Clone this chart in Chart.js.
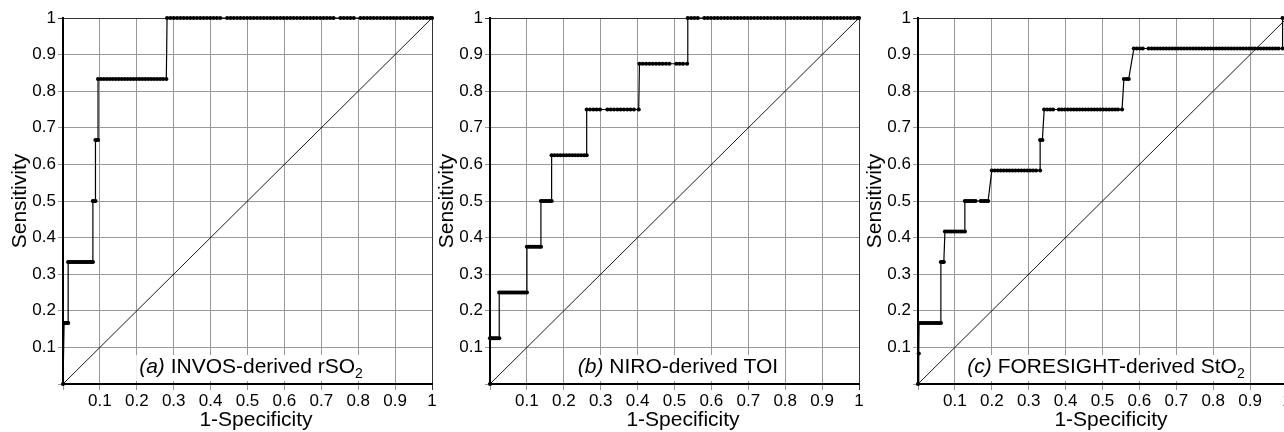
<!DOCTYPE html>
<html><head><meta charset="utf-8">
<script src="https://cdn.jsdelivr.net/npm/chart.js@4.4.1/dist/chart.umd.min.js"></script>
<style>
html,body{margin:0;padding:0;background:#fff;overflow:hidden;width:1284px;height:432px;position:relative;}
canvas{position:absolute;top:0;}
</style></head><body>
<canvas id="ca" width="445" height="432" style="left:0px"></canvas>
<canvas id="cb" width="445" height="432" style="left:427px"></canvas>
<canvas id="cc" width="445" height="432" style="left:855px"></canvas>
<script>
const FONT = '"Liberation Sans", Arial, Helvetica, sans-serif';
const tickValues = [0, 0.1, 0.2, 0.3, 0.4, 0.5, 0.6, 0.7, 0.8, 0.9, 1];
const tickLabels = ['', '0.1', '0.2', '0.3', '0.4', '0.5', '0.6', '0.7', '0.8', '0.9', '1'];
const xTitle = '1-Specificity';
const yTitle = 'Sensitivity';
const panelTags = ['(a)', '(b)', '(c)'];
const panelNames = [' INVOS-derived rSO', ' NIRO-derived TOI', ' FORESIGHT-derived StO'];
const panelSubs = ['2', '', '2'];
const diagX = [0, 1];
const diagY = [0, 1];

// Panel (a): sensitivity levels and the 1-specificity values of the points on each level
const A_tpr = [0, 0.1667, 0.3333, 0.5, 0.6667, 0.8333, 1];
const A_fpr = [
  [0],
  [0.003, 0.006, 0.009, 0.012, 0.014],
  [0.014, 0.018, 0.022, 0.026, 0.030, 0.034, 0.038, 0.042, 0.046, 0.050, 0.054, 0.058, 0.062, 0.066, 0.070, 0.074, 0.078, 0.081],
  [0.081, 0.085, 0.088],
  [0.088, 0.092, 0.095],
  [0.095, 0.103, 0.111, 0.119, 0.127, 0.135, 0.143, 0.151, 0.159, 0.167, 0.175, 0.183, 0.191, 0.199, 0.207, 0.215, 0.223, 0.231, 0.239, 0.247, 0.255, 0.263, 0.271, 0.280],
  [0.282, 0.291, 0.300, 0.309, 0.318, 0.327, 0.336, 0.345, 0.354, 0.363, 0.372, 0.381, 0.390, 0.399, 0.408, 0.417, 0.426, 0.445, 0.454, 0.463, 0.472, 0.481, 0.490, 0.499, 0.508, 0.517, 0.526, 0.535, 0.544, 0.553, 0.562, 0.571, 0.580, 0.589, 0.598, 0.607, 0.616, 0.625, 0.634, 0.643, 0.652, 0.661, 0.670, 0.679, 0.688, 0.697, 0.706, 0.715, 0.724, 0.733, 0.752, 0.761, 0.770, 0.779, 0.788, 0.806, 0.815, 0.824, 0.833, 0.842, 0.851, 0.860, 0.869, 0.878, 0.887, 0.896, 0.905, 0.914, 0.923, 0.932, 0.941, 0.950, 0.959, 0.968, 0.977, 0.986, 0.995, 1.0]
];

// Panel (b)
const B_tpr = [0, 0.125, 0.25, 0.375, 0.5, 0.625, 0.75, 0.875, 1];
const B_fpr = [
  [0],
  [0, 0.004, 0.008, 0.012, 0.016, 0.020, 0.025],
  [0.025, 0.030, 0.035, 0.040, 0.045, 0.050, 0.055, 0.060, 0.065, 0.070, 0.075, 0.080, 0.085, 0.090, 0.095, 0.100],
  [0.100, 0.105, 0.110, 0.115, 0.120, 0.125, 0.130, 0.135, 0.138],
  [0.138, 0.143, 0.148, 0.153, 0.158, 0.163, 0.167],
  [0.167, 0.175, 0.183, 0.191, 0.199, 0.207, 0.215, 0.223, 0.231, 0.239, 0.247, 0.255, 0.262],
  [0.262, 0.271, 0.280, 0.289, 0.298, 0.318, 0.327, 0.336, 0.345, 0.354, 0.363, 0.372, 0.381, 0.390, 0.403],
  [0.405, 0.414, 0.423, 0.432, 0.441, 0.450, 0.459, 0.468, 0.477, 0.486, 0.505, 0.514, 0.523, 0.534],
  [0.536, 0.545, 0.554, 0.563, 0.581, 0.590, 0.599, 0.608, 0.617, 0.626, 0.635, 0.644, 0.653, 0.662, 0.671, 0.680, 0.689, 0.698, 0.707, 0.716, 0.725, 0.734, 0.743, 0.752, 0.761, 0.770, 0.779, 0.788, 0.797, 0.806, 0.815, 0.824, 0.833, 0.842, 0.851, 0.860, 0.869, 0.878, 0.887, 0.896, 0.905, 0.914, 0.923, 0.932, 0.941, 0.950, 0.959, 0.968, 0.977, 0.986, 0.995, 1.0]
];

// Panel (c)
const C_tpr = [0, 0.0833, 0.1667, 0.3333, 0.4167, 0.5, 0.5833, 0.6667, 0.75, 0.8333, 0.9167, 1];
const C_fpr = [
  [0],
  [0.002],
  [0.003, 0.008, 0.013, 0.018, 0.023, 0.028, 0.033, 0.038, 0.043, 0.048, 0.053, 0.058, 0.062],
  [0.062, 0.066, 0.070],
  [0.073, 0.079, 0.085, 0.091, 0.097, 0.103, 0.109, 0.115, 0.121, 0.127],
  [0.127, 0.132, 0.137, 0.142, 0.147, 0.152, 0.156, 0.170, 0.175, 0.180, 0.185, 0.190],
  [0.200, 0.208, 0.216, 0.224, 0.232, 0.240, 0.248, 0.256, 0.264, 0.272, 0.280, 0.288, 0.296, 0.304, 0.312, 0.320, 0.331],
  [0.331, 0.337],
  [0.342, 0.350, 0.358, 0.366, 0.382, 0.390, 0.398, 0.406, 0.414, 0.422, 0.430, 0.438, 0.446, 0.454, 0.462, 0.470, 0.478, 0.486, 0.494, 0.502, 0.510, 0.518, 0.526, 0.534, 0.542, 0.553],
  [0.558, 0.565, 0.571],
  [0.585, 0.593, 0.601, 0.609, 0.625, 0.633, 0.641, 0.649, 0.657, 0.665, 0.673, 0.681, 0.689, 0.697, 0.705, 0.713, 0.721, 0.729, 0.737, 0.745, 0.753, 0.761, 0.769, 0.777, 0.785, 0.793, 0.801, 0.809, 0.817, 0.825, 0.833, 0.841, 0.849, 0.857, 0.865, 0.873, 0.881, 0.889, 0.897, 0.905, 0.913, 0.921, 0.929, 0.937, 0.945, 0.953, 0.961, 0.969, 0.977, 0.988],
  [0.988]
];

const textPlugin = {
  id: 'panelTexts',
  beforeDatasetsDraw(chart) {
    const k = chart.options.plugins.panelTexts.index;
    const ctx = chart.ctx, a = chart.chartArea;
    ctx.save();
    const big = '21px ' + FONT, bigIt = 'italic 21px ' + FONT, small = '14px ' + FONT;
    ctx.font = bigIt; const w1 = ctx.measureText(panelTags[k]).width;
    ctx.font = big; const w2 = ctx.measureText(panelNames[k]).width;
    ctx.font = small; const w3 = panelSubs[k] ? ctx.measureText(panelSubs[k]).width : 0;
    const total = w1 + w2 + w3;
    const cx = a.left + 188;
    let x = cx - total / 2;
    const base = a.bottom - 11;
    ctx.fillStyle = '#fff';
    ctx.fillRect(x - 3, base - 18, total + 6, 26);
    ctx.fillStyle = '#000';
    ctx.textBaseline = 'alphabetic'; ctx.textAlign = 'left';
    ctx.font = bigIt; ctx.fillText(panelTags[k], x, base); x += w1;
    ctx.font = big; ctx.fillText(panelNames[k], x, base); x += w2;
    if (panelSubs[k]) { ctx.font = small; ctx.fillText(panelSubs[k], x, base + 5); }
    ctx.restore();
  },
  afterDraw(chart) {
    const ctx = chart.ctx, a = chart.chartArea;
    ctx.save();
    ctx.fillStyle = '#000';
    ctx.font = '21px ' + FONT;
    ctx.textAlign = 'center';
    ctx.textBaseline = 'alphabetic';
    ctx.fillText(xTitle, a.left + 193, 426);
    ctx.translate(a.left - 43, (a.top + a.bottom) / 2);
    ctx.rotate(-Math.PI / 2);
    ctx.textBaseline = 'middle';
    ctx.fillText(yTitle, 0, 0);
    ctx.restore();
  }
};

function axis(isX) {
  return {
    type: 'linear', min: 0, max: 1,
    afterBuildTicks: s => { s.ticks = tickValues.map(v => ({ value: v })); },
    afterFit: s => { if (isX) s.height = 48; else s.width = 63; },
    ticks: {
      callback: (v, i) => tickLabels[i],
      maxRotation: 0, autoSkip: false, padding: isX ? 1 : 2,
      color: '#000', font: { size: 17, family: FONT }
    },
    grid: {
      color: c => (c.tick && c.tick.value === 1) ? '#333' : '#999',
      lineWidth: 1, tickLength: isX ? 6 : 5, drawTicks: true
    },
    border: { color: '#000', width: 2 }
  };
}

function makeChart(id, k, tprs, fprs) {
  const pts = [];
  tprs.forEach((t, i) => fprs[i].forEach(f => pts.push({ x: f, y: t })));
  return new Chart(document.getElementById(id), {
    type: 'scatter',
    data: {
      datasets: [
        { data: diagX.map((v, i) => ({ x: v, y: diagY[i] })), showLine: true, borderColor: '#000', borderWidth: 0.9, pointRadius: 0, order: 2, clip: 4 },
        { data: pts, showLine: true, borderColor: '#000', borderWidth: 1.2, pointRadius: 2.1, pointBackgroundColor: '#000', pointBorderWidth: 0, order: 1, clip: 5 }
      ]
    },
    options: {
      responsive: false, animation: false, devicePixelRatio: 1, events: [],
      layout: { padding: { top: 18, right: 13, left: 0, bottom: 0 } },
      plugins: { legend: { display: false }, tooltip: { enabled: false }, panelTexts: { index: k } },
      scales: { x: axis(true), y: axis(false) }
    },
    plugins: [textPlugin]
  });
}

makeChart('ca', 0, A_tpr, A_fpr);
makeChart('cb', 1, B_tpr, B_fpr);
makeChart('cc', 2, C_tpr, C_fpr);
</script>
</body></html>
